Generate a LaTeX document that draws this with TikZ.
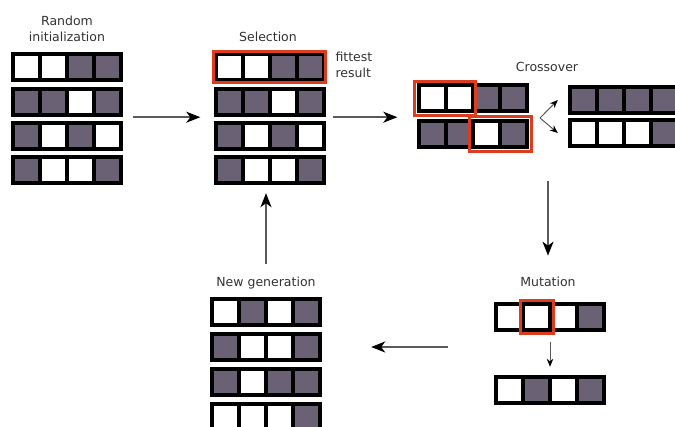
\documentclass[tikz,border=0pt]{standalone}
\usepackage{fontspec}
\setmainfont{DejaVu Sans}
\usetikzlibrary{arrows.meta}
\definecolor{gapurple}{RGB}{107,97,117}
\definecolor{gared}{RGB}{222,60,30}
\definecolor{gatext}{RGB}{50,50,50}

% one chromosome: name, position, genes (w = white, d = dark)
\newcommand{\chromosome}[3]{%
  \node[chrom] (#1) at (#2) {};
  \foreach \g [count=\i] in {#3}
    \node[gene\g] (#1-\i) at ([xshift={(\i-2.5)*27pt}]#1.center) {};
}

\begin{document}
\begin{tikzpicture}[
  x=1pt, y=-1pt,
  lbl/.style={font=\fontsize{12.5}{16.5}\selectfont, text=gatext},
  chrom/.style={fill=black, draw=none, inner sep=0pt, minimum width=112pt, minimum height=30pt},
  genew/.style={fill=white, inner sep=0pt, minimum width=23pt, minimum height=22pt},
  gened/.style={genew, fill=gapurple},
  hilite/.style={draw=gared, line width=3pt},
  flow/.style={-{Stealth[length=14pt,width=11pt,inset=4pt,black]}, line width=1.6pt, draw=black!65},
  smallflow/.style={-{Stealth[length=8pt,width=6.5pt,inset=2.5pt,black]}, line width=1pt, draw=black!65}
]
\useasboundingbox (0,0) rectangle (675,426);
\clip (0,0) rectangle (675,426);

% labels
\node[lbl, align=center] (initlbl) at (67,29) {Random\\initialization};
\node[lbl] (sellbl) at (268,37) {Selection};
\node[lbl, align=left, anchor=west] (fitlbl) at (332,65) {fittest\\result};
\node[lbl] (crosslbl) at (547,67) {Crossover};
\node[lbl] (mutlbl) at (548,282) {Mutation};
\node[lbl] (newlbl) at (266,283) {New generation};

% random initialization
\chromosome{init1}{66.5,67}{w,w,d,d}
\chromosome{init2}{66.5,102}{d,d,w,d}
\chromosome{init3}{66.5,136}{d,w,d,w}
\chromosome{init4}{66.5,170}{d,w,w,d}

% selection
\chromosome{sel1}{269.5,67}{w,w,d,d}
\chromosome{sel2}{269.5,102}{d,d,w,d}
\chromosome{sel3}{269.5,136}{d,w,d,w}
\chromosome{sel4}{269.5,170}{d,w,w,d}
\draw[hilite] (sel1.north west) rectangle (sel1.south east);

% crossover
\chromosome{cx1}{472.5,98}{w,w,d,d}
\chromosome{cx2}{473,134}{d,d,w,d}
\draw[hilite] ([shift={(-2pt,1pt)}]cx1.north west) rectangle ([shift={(5pt,-2pt)}]cx1-2.east |- cx1.south);
\draw[hilite] ([shift={(-5pt,2pt)}]cx2-3.west |- cx2.north) rectangle ([shift={(2pt,-2pt)}]cx2.south east);
\chromosome{off1}{624,100}{d,d,d,d}
\chromosome{off2}{624,133}{w,w,w,d}

% mutation
\chromosome{mut}{550,317}{w,w,w,d}
\chromosome{mutres}{550,390}{w,d,w,d}
\draw[hilite] ([shift={(-4pt,5pt)}]mut-2.north west) rectangle ([shift={(5pt,-5pt)}]mut-2.south east);

% new generation
\chromosome{new1}{266,312}{w,d,w,d}
\chromosome{new2}{266,347}{d,w,w,d}
\chromosome{new3}{266,382}{d,w,d,d}
\chromosome{new4}{266,417}{w,w,w,d}

% arrows
\draw[flow] ([xshift=10pt]init2.south east) -- ([xshift=-13pt]sel2.south west);
\draw[flow] ([xshift=7pt]sel2.south east) -- ([xshift=-19pt]cx1.west |- sel2.south);
\coordinate (split) at (540,118);
\draw[smallflow] (split) -- ([xshift=-10pt]off1.west);
\draw[smallflow] (split) -- ([xshift=-10pt]off2.west);
\draw[flow] ([yshift=-32pt]cx2.south -| mutlbl.north) -- ([yshift=18pt]mutlbl.north);
\draw[smallflow] ([yshift=-10pt]mut.south) -- ([yshift=8pt]mutres.north);
\draw[flow] ([xshift=-46pt]mut.west |- new2.east) -- ([xshift=49pt]new2.east);
\draw[flow] ([yshift=9pt]newlbl.north) -- ([yshift=-8pt]sel4.south -| newlbl.north);
\end{tikzpicture}
\end{document}
